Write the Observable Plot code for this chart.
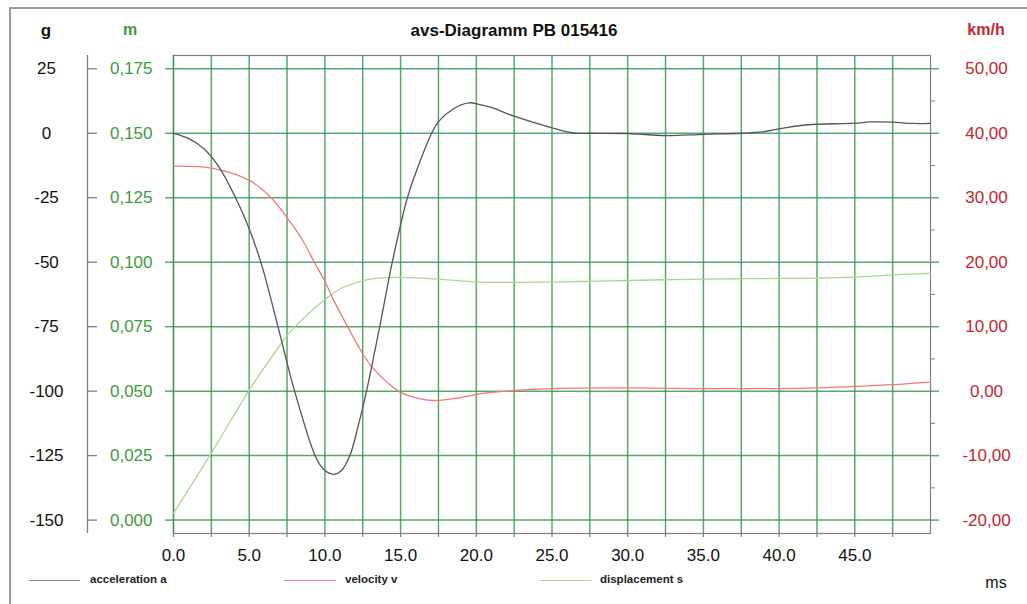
<!DOCTYPE html>
<html><head><meta charset="utf-8">
<script src="https://cdn.jsdelivr.net/npm/d3@7"></script>
<script src="https://cdn.jsdelivr.net/npm/@observablehq/plot@0.6"></script>
<style>
body{margin:0;background:#fff;font-family:"Liberation Sans",Arial,sans-serif;}
#wrap{position:relative;width:1027px;height:604px;overflow:hidden;background:#fff;}
#chart{position:absolute;left:0;top:0;}
#border{position:absolute;left:9px;top:7px;width:1100px;height:700px;border:2px solid #9a9a9a;pointer-events:none;}
.lab{position:absolute;white-space:nowrap;transform:translate(-50%,-50%);line-height:1;}
.leg{position:absolute;top:580px;transform:translateY(-50%);font-size:11.5px;font-weight:bold;color:#222;white-space:nowrap;line-height:1;}
.sw{position:absolute;top:580px;height:0;border-top:1.3px solid;}
</style></head><body>
<div id="wrap">
  <div id="chart"></div>
  <div class="lab" style="left:514px;top:30px;font-size:17px;font-weight:bold;color:#111;">avs-Diagramm PB 015416</div>
  <div class="lab" style="left:46px;top:30px;font-size:17px;font-weight:bold;color:#111;">g</div>
  <div class="lab" style="left:130px;top:30px;font-size:16px;font-weight:bold;color:#3d9b3d;">m</div>
  <div class="lab" style="left:986px;top:30px;font-size:16px;font-weight:bold;color:#c4262e;">km/h</div>
  <div class="lab" style="left:996px;top:583px;font-size:16px;color:#111;">ms</div>
  <div class="sw" style="left:29px;width:51px;border-color:#8a8a8a;"></div>
  <div class="leg" style="left:90px;">acceleration a</div>
  <div class="sw" style="left:284px;width:52px;border-color:#f08a8a;"></div>
  <div class="leg" style="left:345px;">velocity v</div>
  <div class="sw" style="left:540px;width:51px;border-color:#a8d890;"></div>
  <div class="leg" style="left:600px;">displacement s</div>
  <div id="border"></div>
</div>
<script>
// ---- data ----
const accT = [0, 1, 2, 3, 4.1, 5, 5.87, 6.9, 8.0, 9.28, 9.7, 10.1, 10.6, 11.1, 11.65, 12.2, 12.75, 13.62, 14.45, 15.45, 16.15, 17.05, 17.5, 18.5, 19.5, 20.25, 21, 22.5, 25, 26.4, 27.5, 30, 32.5, 35, 37.5, 38.9, 40, 41.4, 42.5, 45, 46, 47.5, 48.8, 50];
const accG = [0, -2, -6, -13, -25, -37, -52, -75, -100, -124, -128.8, -131.2, -132.3, -130.8, -125, -113.5, -100, -75, -50, -25, -13, 0, 4.5, 9.5, 11.8, 11.1, 10, 6.6, 2.1, 0.1, 0, -0.1, -0.9, -0.4, 0, 0.5, 1.7, 3.0, 3.5, 3.9, 4.4, 4.3, 3.8, 3.8];

const velT = [0, 2.5, 5, 6.4, 7.5, 8.6, 9.28, 10, 10.6, 11.5, 12.5, 13.2, 14.1, 15, 16.3, 17.2, 18.95, 20, 21, 22.5, 25, 30, 35, 40, 42.5, 45, 47.5, 50];
const velKmh = [34.9, 34.6, 32.7, 30.1, 26.9, 23.1, 20.1, 17.0, 14.0, 10.0, 5.8, 3.5, 1.4, -0.2, -1.2, -1.45, -1.0, -0.5, -0.2, 0.1, 0.4, 0.5, 0.4, 0.4, 0.5, 0.75, 1.0, 1.4];

const disT = [0, 2.5, 5, 6.4, 7.5, 8.07, 9, 10, 11.05, 12.5, 13.7, 15, 17.5, 19, 20.25, 22.5, 25, 27.5, 30, 32.5, 35, 37.5, 40, 42.5, 45, 47.5, 50];
const disM = [0.0027, 0.026, 0.0504, 0.0625, 0.0715, 0.0752, 0.0805, 0.0855, 0.0898, 0.0928, 0.0939, 0.0941, 0.0934, 0.0927, 0.0923, 0.0922, 0.0923, 0.0926, 0.0929, 0.0932, 0.0934, 0.0936, 0.0937, 0.0938, 0.0942, 0.0951, 0.0957];

const gTicks = [25, 0, -25, -50, -75, -100, -125, -150];
const gLabels = ["25", "0", "-25", "-50", "-75", "-100", "-125", "-150"];
const mLabels = ["0,175", "0,150", "0,125", "0,100", "0,075", "0,050", "0,025", "0,000"];
const kmhLabels = ["50,00", "40,00", "30,00", "20,00", "10,00", "0,00", "-10,00", "-20,00"];
const msTicks = [0, 5, 10, 15, 20, 25, 30, 35, 40, 45];
const msLabels = ["0.0", "5.0", "10.0", "15.0", "20.0", "25.0", "30.0", "35.0", "40.0", "45.0"];
const msGrid = [0, 2.5, 5, 7.5, 10, 12.5, 15, 17.5, 20, 22.5, 25, 27.5, 30, 32.5, 35, 37.5, 40, 42.5, 45, 47.5];

// ---- tables ----
const acc = accT.map((t, i) => ({t, v: accG[i]}));
const vel = velT.map((t, i) => ({t, v: velKmh[i]}));
const dis = disT.map((t, i) => ({t, v: disM[i]}));
const kmhToG = v => 2.5 * v - 100;      // -20..50 km/h  ->  -150..25 g
const mToG = m => m * 1000 - 150;       // 0..0.175 m    ->  -150..25 g
const gHalf = gTicks.slice(0, -1).map((g, i) => (g + gTicks[i + 1]) / 2);
const gOf = new Map(gTicks.map((g, i) => [g, gLabels[i]]));
const mOf = new Map(gTicks.map((g, i) => [g, mLabels[i]]));
const kOf = new Map(gTicks.map((g, i) => [g, kmhLabels[i]]));
const msOf = new Map(msTicks.map((t, i) => [t, msLabels[i]]));

const GREEN = "#2f9447";
const GREEN_TXT = "#3d9b3d";
const RED_TXT = "#c4262e";
const GRAY = "#808080";
const Y0 = -155.2, Y1 = 30.15;

const chart = Plot.plot({
  width: 1027,
  height: 604,
  marginTop: 55,
  marginBottom: 71,
  marginLeft: 173,
  marginRight: 97,
  style: {fontFamily: "'Liberation Sans', Arial, sans-serif", fontSize: "17px", background: "transparent"},
  x: {domain: [0, 50], axis: null, label: null},
  y: {domain: [Y0, Y1], axis: null, label: null},
  marks: [
    Plot.frame({stroke: GRAY, strokeWidth: 1.2}),
    Plot.gridY(gTicks, {stroke: GREEN, strokeOpacity: 0.8, strokeWidth: 1.5}),
    Plot.gridX(msGrid, {stroke: GREEN, strokeOpacity: 0.8, strokeWidth: 1.5}),
    // green m axis (left, inner)
    Plot.axisY(gTicks, {anchor: "left", label: null, tickSize: 8, tickPadding: 13, tickFormat: d => mOf.get(d), stroke: GREEN, strokeOpacity: 0.8, strokeWidth: 1.5, fill: GREEN_TXT, fontSize: 17}),
    // g axis (left, outer)
    Plot.ruleX([0], {y1: Y0, y2: Y1, dx: -86, stroke: GRAY, strokeWidth: 1.3}),
    Plot.axisY(gTicks, {anchor: "left", label: null, tickSize: 10, dx: -76, tickFormat: () => "", stroke: GRAY, strokeWidth: 1.3}),
    Plot.text(gTicks, {y: d => d, text: d => gOf.get(d), frameAnchor: "left", dx: -127, textAnchor: "middle", fontSize: 17, fill: "#111"}),
    // km/h axis (right)
    Plot.axisY(gTicks, {anchor: "right", label: null, tickSize: 8, tickFormat: () => "", stroke: GREEN, strokeOpacity: 0.8, strokeWidth: 1.5}),
    Plot.axisY(gHalf, {anchor: "right", label: null, tickSize: 4, tickFormat: () => "", stroke: GRAY}),
    Plot.text(gTicks, {y: d => d, text: d => kOf.get(d), frameAnchor: "right", dx: 56, textAnchor: "middle", fontSize: 17, fill: RED_TXT}),
    // ms axis (bottom)
    Plot.axisX(msGrid, {anchor: "bottom", label: null, tickSize: 4, tickFormat: () => "", stroke: GRAY, strokeWidth: 1.2}),
    Plot.axisX(msTicks, {anchor: "bottom", label: null, tickSize: 0, tickPadding: 15, tickFormat: d => msOf.get(d), fontSize: 17, fill: "#111"}),
    // series
    Plot.line(dis, {x: "t", y: d => mToG(d.v), stroke: "#a8d890", strokeWidth: 1.3, curve: "catmull-rom"}),
    Plot.line(vel, {x: "t", y: d => kmhToG(d.v), stroke: "#f07878", strokeWidth: 1.3, curve: "catmull-rom"}),
    Plot.line(acc, {x: "t", y: "v", stroke: "#555555", strokeWidth: 1.3, curve: "catmull-rom"})
  ]
});
document.getElementById("chart").appendChild(chart);
</script>
</body></html>
